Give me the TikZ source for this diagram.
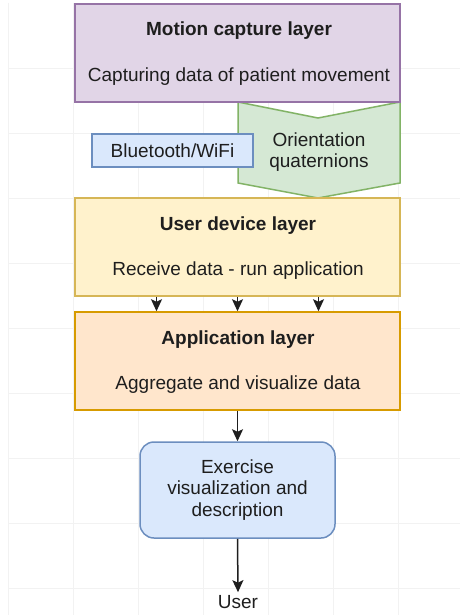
\documentclass[tikz,border=0pt]{standalone}
\usepackage{fontspec}
\setmainfont{Liberation Sans}
\usetikzlibrary{arrows.meta}

\definecolor{gridline}{HTML}{F2F2F2}
\definecolor{purplefill}{HTML}{E1D5E7}
\definecolor{purpleline}{HTML}{9673A6}
\definecolor{greenfill}{HTML}{D5E8D4}
\definecolor{greenline}{HTML}{82B366}
\definecolor{bluefill}{HTML}{DAE8FC}
\definecolor{blueline}{HTML}{6C8EBF}
\definecolor{yellowfill}{HTML}{FFF2CC}
\definecolor{yellowline}{HTML}{D6B656}
\definecolor{orangefill}{HTML}{FFE6CC}
\definecolor{orangeline}{HTML}{D79B00}
\definecolor{inktext}{HTML}{1E1E1E}

\tikzset{
  layerbox/.style={draw, line width=1.5pt, minimum width=325pt, minimum height=98pt, inner sep=0pt},
  txt/.style={font=\fontsize{19}{21.5}\selectfont, text=inktext, inner sep=0pt, align=center},
  title/.style={txt, font=\fontsize{19}{21.5}\selectfont\bfseries},
  flow/.style={draw=inktext, line width=1.5pt, -{Stealth[length=12pt,width=11pt,inset=2.5pt]}},
}

\begin{document}
\begin{tikzpicture}[x=1pt, y=-1pt]
  % canvas and background grid
  \fill[white] (0,0) rectangle (460,615);
  \useasboundingbox (0,0) rectangle (460,615);
  \foreach \gx in {8,73,138,203,268,333,398}
    \draw[gridline, line width=0.8pt] (\gx,3) -- (\gx,615);
  \foreach \gy in {68,133,198,263,328,393,458,523,588}
    \draw[gridline, line width=0.8pt] (8,\gy) -- (460,\gy);

  % orientation quaternions: off-page connector shape
  \draw[fill=greenfill, draw=greenline, line width=1.5pt, line join=miter]
    (238,102) -- (318,118) -- (400,102) -- (400,183) -- (318,198) -- (238,183) -- cycle;
  \node[txt] (quat) at (319,152) {Orientation\\quaternions};

  % motion capture layer
  \node[layerbox, fill=purplefill, draw=purpleline] (motion) at (237.5,53) {};
  \node[title] (motiont) at (239,31) {Motion capture layer};
  \node[txt] (motions) at (239,77) {Capturing data of patient movement};

  % transport label
  \node[draw=blueline, fill=bluefill, line width=1.5pt, minimum width=161pt,
        minimum height=33pt, inner sep=0pt] (bt) at (172.5,150.5) {};
  \node[txt] (btt) at (172.5,151) {Bluetooth/WiFi};

  % user device layer
  \node[layerbox, fill=yellowfill, draw=yellowline] (device) at (237.5,247) {};
  \node[title] (devicet) at (238,226) {User device layer};
  \node[txt] (devices) at (238,271) {Receive data - run application};

  % application layer
  \node[layerbox, fill=orangefill, draw=orangeline] (app) at (237.5,361) {};
  \node[title] (appt) at (238,340) {Application layer};
  \node[txt] (apps) at (238,385) {Aggregate and visualize data};

  % exercise output
  \node[draw=blueline, fill=bluefill, line width=1.5pt, rounded corners=14pt,
        minimum width=195pt, minimum height=96pt, inner sep=0pt, txt]
        (exercise) at (237.5,490) {Exercise\\visualization and\\description};

  % end user
  \node[txt, inner sep=3pt] (user) at (238,602) {User};

  % data flow
  \draw[flow] ([xshift=-81pt]device.south) -- ([xshift=-81pt]app.north);
  \draw[flow] (device.south) -- (app.north);
  \draw[flow] ([xshift=81pt]device.south) -- ([xshift=81pt]app.north);
  \draw[flow] (app.south) -- (exercise.north);
  \draw[flow] (exercise.south) -- (user.north);
\end{tikzpicture}
\end{document}
